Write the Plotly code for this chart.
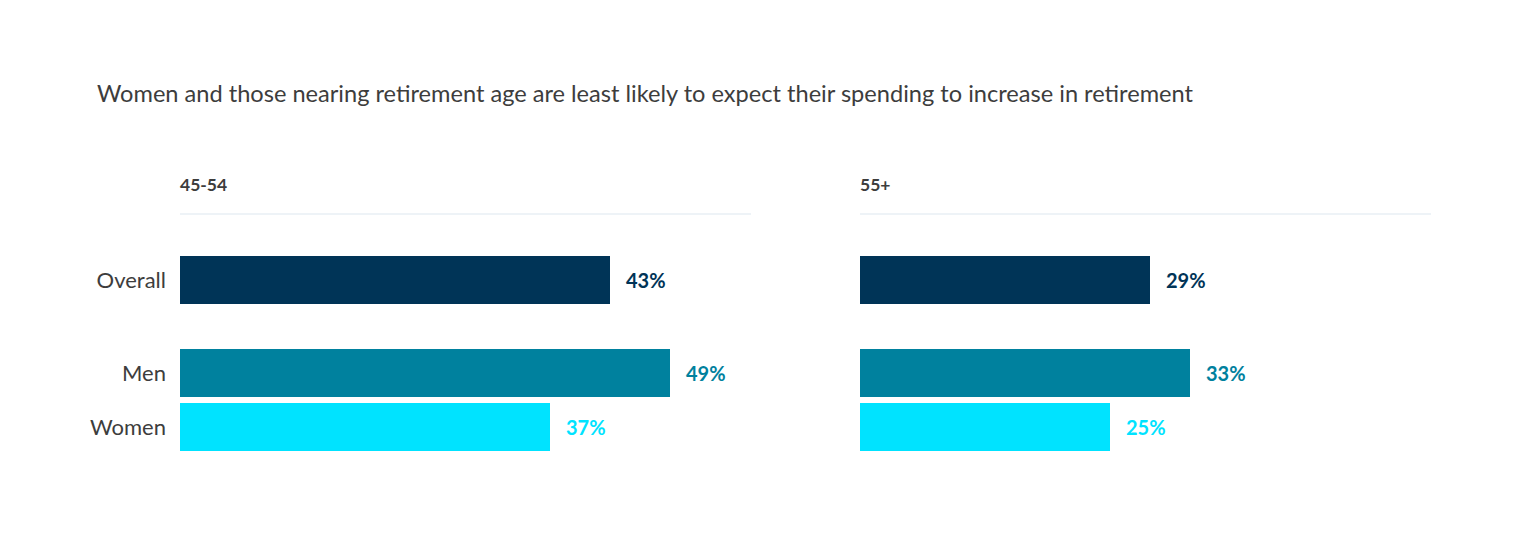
import plotly.graph_objects as go
from plotly.subplots import make_subplots

title = "Women and those nearing retirement age are least likely to expect their spending to increase in retirement"
panels = ["45-54", "55+"]
overall_label = ["Overall"]
gender_labels = ["Men", "Women"]
overall_vals = [43, 29]          # per panel
men_vals = [49, 33]
women_vals = [37, 25]

C_OVERALL = "#003457"
C_MEN = "#00819e"
C_WOMEN = "#00e3ff"
TXT = "#3d3d3d"
FONT = "Lato"

OFF = 8  # page body margin
W, H = 1522 - 2 * OFF, 548 - 2 * OFF
def px_x(v):
    return (v - OFF) / W
def px_y(v):
    return 1 - (v - OFF) / H

fig = make_subplots(rows=2, cols=2, horizontal_spacing=0.05, vertical_spacing=0.05)

xdoms = [[px_x(180), px_x(751)], [px_x(860), px_x(1431)]]
ydoms = [[px_y(304), px_y(256)], [px_y(451), px_y(349)]]
# bar step 54px, bar 48px
ydoms = [[px_y(307), px_y(253)], [px_y(454), px_y(346)]]

for c in range(2):
    fig.add_trace(go.Bar(y=overall_label, x=[overall_vals[c]], orientation="h",
                         marker=dict(color=C_OVERALL, line=dict(width=0)),
                         hoverinfo="skip", showlegend=False), row=1, col=c + 1)
    fig.add_trace(go.Bar(y=gender_labels, x=[men_vals[c], women_vals[c]], orientation="h",
                         marker=dict(color=[C_MEN, C_WOMEN], line=dict(width=0)),
                         hoverinfo="skip", showlegend=False), row=2, col=c + 1)

fig.update_layout(bargap=6 / 54)

ax_i = 0
for r in range(2):
    for c in range(2):
        ax_i += 1
        sfx = "" if ax_i == 1 else str(ax_i)
        fig.layout["xaxis" + sfx].update(domain=xdoms[c], range=[0, 57.1], visible=False, fixedrange=True)
        fig.layout["yaxis" + sfx].update(domain=ydoms[r], autorange="reversed",
                                         showgrid=False, zeroline=False, showline=False,
                                         showticklabels=(c == 0), ticks="", ticklabelstandoff=13,
                                         tickfont=dict(family=FONT, size=22, color=TXT),
                                         fixedrange=True)

annotations = []
# value labels
for c in range(2):
    xs = "x" if c == 0 else "x2"
    ys = "y" if c == 0 else "y2"
    annotations.append(dict(x=overall_vals[c], y=overall_label[0], xref=xs, yref=ys,
                            text="<b>%d%%</b>" % overall_vals[c], showarrow=False,
                            xanchor="left", xshift=14,
                            font=dict(family=FONT, size=20, color=C_OVERALL)))
    xs2 = "x3" if c == 0 else "x4"
    ys2 = "y3" if c == 0 else "y4"
    for lab, v, col in zip(gender_labels, [men_vals[c], women_vals[c]], [C_MEN, C_WOMEN]):
        annotations.append(dict(x=v, y=lab, xref=xs2, yref=ys2,
                                text="<b>%d%%</b>" % v, showarrow=False,
                                xanchor="left", xshift=14,
                                font=dict(family=FONT, size=20, color=col)))

# panel headers
shapes = []
for c in range(2):
    annotations.append(dict(x=xdoms[c][0], y=px_y(184), xref="paper", yref="paper",
                            text="<b>%s</b>" % panels[c], showarrow=False,
                            xanchor="left", yanchor="middle", xshift=-2,
                            font=dict(family=FONT, size=17.5, color=TXT)))
    shapes.append(dict(type="line", xref="paper", yref="paper",
                       x0=xdoms[c][0], x1=xdoms[c][1], y0=px_y(214), y1=px_y(214),
                       line=dict(color="#dde7ef", width=1.2)))

annotations.append(dict(x=px_x(97), y=px_y(93), xref="paper", yref="paper",
                        text=title, showarrow=False, xanchor="left", yanchor="middle", xshift=-2,
                        font=dict(family=FONT, size=23.6, color=TXT)))

fig.update_layout(width=W, height=H, margin=dict(l=0, r=0, t=0, b=0),
                  paper_bgcolor="white", plot_bgcolor="white",
                  annotations=annotations, shapes=shapes,
                  font=dict(family=FONT, color=TXT))

fig.write_html("out.html", config={"displayModeBar": False})
